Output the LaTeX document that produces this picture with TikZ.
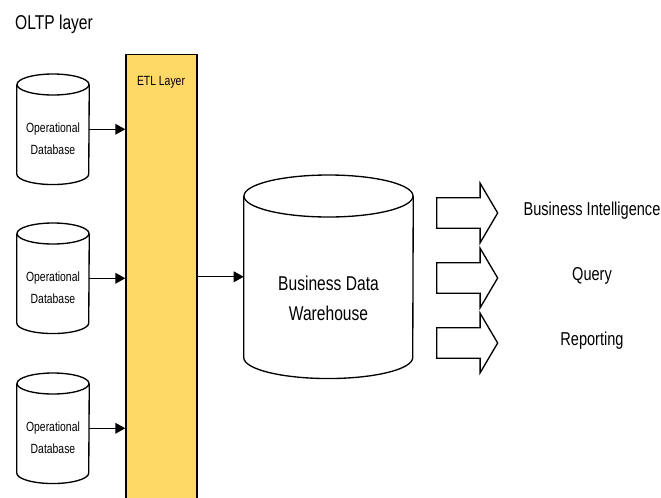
\documentclass[tikz,border=0pt]{standalone}
\usepackage{fontspec}
\setmainfont{Liberation Sans}[FakeStretch=0.78]
\usetikzlibrary{shapes.arrows,arrows.meta,calc}

\definecolor{etlyellow}{RGB}{255,217,102}

\tikzset{
  dbline/.style={draw, line width=1pt},
  smalldb/.style={minimum width=54pt, minimum height=82.5pt, inner sep=0pt, anchor=north},
  bigdb/.style={minimum width=126.75pt, minimum height=152.25pt, inner sep=0pt, anchor=north},
  smalltext/.style={align=center, font=\fontsize{10}{16.5}\selectfont},
  bigtext/.style={align=center, font=\fontsize{15}{22.5}\selectfont},
  feed/.style={-{Triangle[length=7.5pt,width=8pt]}, line width=1pt},
  output/.style={draw, line width=1pt, single arrow, single arrow tip angle=119,
    single arrow head extend=10.9pt, inner ysep=10.9pt, inner xsep=0pt,
    minimum height=45.75pt, anchor=tail},
  outlabel/.style={font=\fontsize{14}{16}\selectfont}
}

% drum outline round a node: #1 node, #2 half width, #3 radius of the end ellipses
\newcommand{\drum}[3]{%
  \draw[dbline] ($(#1.north)+(0,#3)$) ellipse [x radius=#2, y radius=#3];
  \draw[dbline] ($(#1.north west)+(0,#3)$) -- ($(#1.south west)+(0,-#3)$)
    arc [start angle=180, end angle=0, x radius=#2, y radius=#3]
    -- ($(#1.north east)+(0,#3)$);
}

\begin{document}
\begin{tikzpicture}[x=0.75pt,y=0.75pt,yscale=-1,xscale=1]
\useasboundingbox (0,0) rectangle (661,497);

% layer titles
\node [font=\fontsize{15}{18}\selectfont] (oltp) at (54,24) {OLTP layer};

% ETL column, runs off the bottom edge
\node [draw, line width=1pt, fill=etlyellow, minimum width=53.25pt, minimum height=345pt,
       anchor=north, inner sep=0pt] (etl) at (161.5,54) {};
\node [font=\fontsize{10}{12}\selectfont] (etltitle) at (161,82) {ETL Layer};

% operational sources
\node [smalldb] (db1) at (53,74) {};
\node [smalldb] (db2) at (53,223) {};
\node [smalldb] (db3) at (53,373) {};
\drum{db1}{36}{10.5}
\drum{db2}{36}{10.5}
\drum{db3}{36}{10.5}
\node [smalltext] (db1text) at ($(db1.north)+(0,65)$) {Operational\\Database};
\node [smalltext] (db2text) at ($(db2.north)+(0,65)$) {Operational\\Database};
\node [smalltext] (db3text) at ($(db3.north)+(0,65)$) {Operational\\Database};

\draw [feed] (db1.east) -- (db1.east -| etl.west);
\draw [feed] (db2.east) -- (db2.east -| etl.west);
\draw [feed] (db3.east) -- (db3.east -| etl.west);

% warehouse
\node [bigdb] (dwh) at (328.5,175) {};
\drum{dwh}{84.5}{21}
\node [bigtext] (dwhtext) at ($(dwh.north)+(0,123)$) {Business Data\\Warehouse};
\draw [feed] (dwh.west -| etl.east) -- (dwh.west);

% consumers
\node [output] (out1) at (436,213) {};
\node [output] (out2) at (436,278) {};
\node [output] (out3) at (436,343) {};

\node [outlabel] (bi) at (592,211) {Business Intelligence};
\node [outlabel] (query) at (592,276) {Query};
\node [outlabel] (reporting) at (592,341) {Reporting};

\end{tikzpicture}
\end{document}
